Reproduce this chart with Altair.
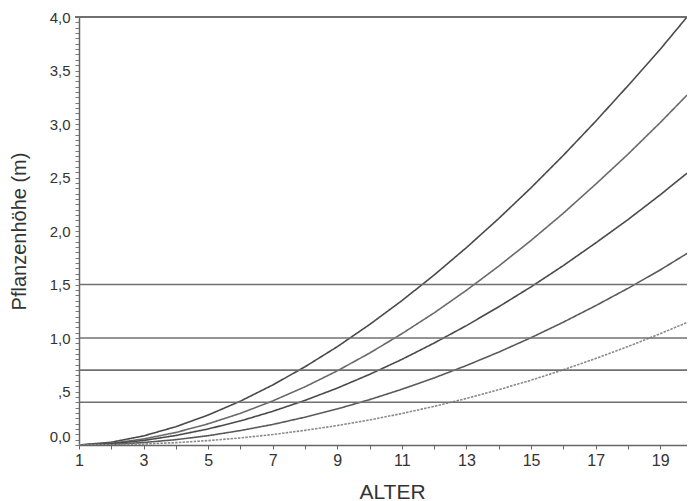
import altair as alt
import pandas as pd

# Age values (x) and plant heights (m) for the five growth curves
alter = [1, 2, 3, 4, 5, 6, 7, 8, 9, 10, 11, 12, 13, 14, 15, 16, 17, 18, 19, 19.83]
kurve1 = [0.0, 0.026, 0.085, 0.171, 0.280, 0.410, 0.561, 0.731, 0.919, 1.126, 1.349,
          1.589, 1.845, 2.117, 2.404, 2.707, 3.025, 3.357, 3.698, 4.0]
kurve2 = [0.0, 0.016, 0.056, 0.117, 0.198, 0.296, 0.412, 0.544, 0.693, 0.859, 1.040,
          1.235, 1.446, 1.672, 1.912, 2.166, 2.437, 2.717, 3.013, 3.27]
kurve3 = [0.0, 0.012, 0.042, 0.089, 0.150, 0.225, 0.315, 0.417, 0.532, 0.660, 0.800,
          0.953, 1.116, 1.292, 1.478, 1.677, 1.888, 2.106, 2.338, 2.54]
kurve4 = [0.0, 0.006, 0.023, 0.050, 0.087, 0.135, 0.192, 0.260, 0.337, 0.424, 0.521,
          0.627, 0.743, 0.868, 1.003, 1.148, 1.302, 1.464, 1.636, 1.79]
kurve5 = [0.0, 0.002, 0.009, 0.022, 0.041, 0.066, 0.098, 0.137, 0.182, 0.234, 0.294,
          0.361, 0.435, 0.517, 0.606, 0.703, 0.808, 0.920, 1.040, 1.145]
hlinien = [0.4, 0.7, 1.0, 1.5]
oberlinie = [4.0]

x_ticks = list(range(1, 20))
y_ticks = [round(i * 0.05, 2) for i in range(0, 81)]

rows = []
for name, vals in [("k1", kurve1), ("k2", kurve2), ("k3", kurve3), ("k4", kurve4), ("k5", kurve5)]:
    for a, v in zip(alter, vals):
        rows.append({"kurve": name, "alter": a, "hoehe": v})
df = pd.DataFrame(rows)

W, H = 608, 428
FONT = "Liberation Sans"

xscale = alt.Scale(domain=[1, 19.83], nice=False, zero=False)
yscale = alt.Scale(domain=[0, 4], nice=False)

x_axis = alt.Axis(
    title="ALTER", values=x_ticks, grid=False,
    labelExpr="datum.value % 2 == 1 ? datum.value : ''",
    labelFlush=False, labelOverlap=False,
    labelFont=FONT, labelFontSize=16, labelColor="#333",
    titleFont=FONT, titleFontSize=21, titleFontWeight="normal", titleColor="#333",
    titleX=313, titleY=53, titleBaseline="alphabetic",
    domainColor="#666", domainWidth=1.5, tickColor="#666", tickSize=4, labelPadding=3,
)
y_axis = alt.Axis(
    title="Pflanzenhöhe (m)", values=y_ticks, grid=False,
    labelExpr="abs(datum.value*2 - round(datum.value*2)) > 0.001 ? '' : (abs(datum.value - 0.5) < 0.001 ? ',5' : replace(format(datum.value, '.1f'), '.', ','))",
    labelOverlap=False, labelFlush=False,
    labelOffset={"condition": {"test": "datum.value == 0", "value": -9}, "value": 0},
    labelFont=FONT, labelFontSize=15, labelColor="#333",
    titleFont=FONT, titleFontSize=20, titleFontWeight="normal", titleColor="#333",
    titleX=-50, titleY=214, titleBaseline="bottom", titleAngle=270,
    domainColor="#666", domainWidth=1.5, tickColor="#777", tickSize=4, labelPadding=5,
)

curves = alt.Chart(df).mark_line(strokeWidth=1.6, clip=True).encode(
    x=alt.X("alter:Q", scale=xscale, axis=x_axis),
    y=alt.Y("hoehe:Q", scale=yscale, axis=y_axis),
    detail="kurve:N",
    color=alt.Color("kurve:N", legend=None,
                    scale=alt.Scale(domain=["k1", "k2", "k3", "k4", "k5"],
                                    range=["#4a4a4a", "#6a6a6a", "#4a4a4a", "#5a5a5a", "#8a8a8a"])),
    strokeDash=alt.StrokeDash("kurve:N", legend=None,
                              scale=alt.Scale(domain=["k1", "k2", "k3", "k4", "k5"],
                                              range=[[1, 0], [1, 0], [1, 0], [1, 0], [2.5, 1.2]])),
)

hl = alt.Chart(pd.DataFrame({"hoehe": hlinien})).mark_rule(color="#707070", strokeWidth=1.6).encode(
    y=alt.Y("hoehe:Q", scale=yscale, axis=y_axis)
)
top = alt.Chart(pd.DataFrame({"hoehe": oberlinie})).mark_rule(color="#707070", strokeWidth=1.8).encode(
    y=alt.Y("hoehe:Q", scale=yscale, axis=y_axis),
    x=alt.value(-4), x2=alt.value(W),
)

chart = alt.layer(curves, hl, top).properties(
    width=W, height=H,
    autosize=alt.AutoSizeParams(type="none"),
    padding={"left": 71, "top": 9, "right": 0, "bottom": 56},
    background="white",
).configure_view(stroke=None)

chart.save("out.html", embed_options={"renderer": "svg", "actions": False})
